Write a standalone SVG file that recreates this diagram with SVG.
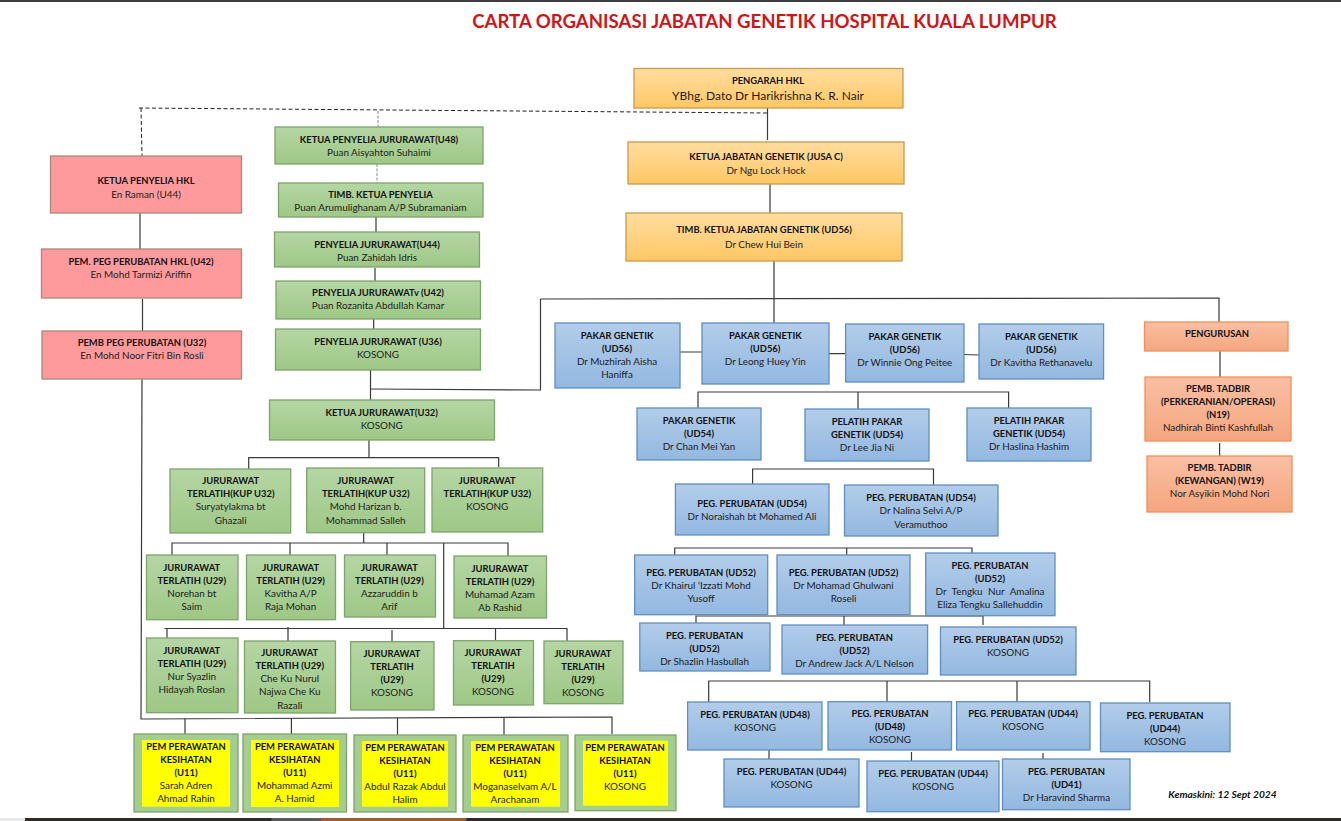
<svg xmlns="http://www.w3.org/2000/svg" width="1341" height="821" viewBox="0 0 1341 821">
<style>
text{font-family:"Lato","Carlito","Open Sans",sans-serif;font-size:9.9px;fill:#1c1c1c;text-anchor:middle}
.b{font-weight:700;font-size:9.4px;fill:#111}
.t{font-size:18.6px;font-weight:700;fill:#d01418}
.n{font-size:12px}
.k{font-weight:700;font-style:italic;font-size:10.2px;fill:#111}
.g{fill:url(#gg);stroke:#7ea36b;stroke-width:1.3}
.u{fill:url(#gu);stroke:#5f8fc0;stroke-width:1.3}
.o{fill:url(#go);stroke:#c99a4c;stroke-width:1.3}
.s{fill:url(#gs);stroke:#f0905a;stroke-width:1.3}
.r{fill:#ff9a9c;stroke:#a58a76;stroke-width:1.3}
.a{fill:#a6cd90;stroke:#7ea36b;stroke-width:1.3}
.y{fill:#ffff00}
#connectors path{fill:none;stroke:#3a3a3a;stroke-width:1.2}
#connectors .d{stroke:#222;stroke-width:1;stroke-dasharray:4 2.5}
#connectors .e{stroke:#888;stroke-width:1;stroke-dasharray:3 1.5}
</style>
<defs>
<linearGradient id="gg" x1="0" y1="0" x2="0" y2="1"><stop offset="0" stop-color="#b5d6a4"/><stop offset="1" stop-color="#9ec886"/></linearGradient>
<linearGradient id="gu" x1="0" y1="0" x2="0" y2="1"><stop offset="0" stop-color="#b2cdea"/><stop offset="1" stop-color="#93b8e0"/></linearGradient>
<linearGradient id="go" x1="0" y1="0" x2="0" y2="1"><stop offset="0" stop-color="#ffdda0"/><stop offset="1" stop-color="#ffc764"/></linearGradient>
<linearGradient id="gs" x1="0" y1="0" x2="0" y2="1"><stop offset="0" stop-color="#f9bfa3"/><stop offset="1" stop-color="#f5a67f"/></linearGradient>
</defs>
<rect width="1341" height="821" fill="#fff"/>
<g id="window-edges">
<rect x="0" y="0" width="1341" height="2" fill="#3c3c3c"/>
<rect x="0" y="818" width="25" height="3" fill="#e8e8e8"/>
<rect x="25" y="818" width="1316" height="3" fill="#2e2a28"/>
<rect x="271.500" y="818" width="49" height="3" fill="#5a5a5a"/>
<rect x="320.500" y="818" width="146" height="3" fill="#9c5e30"/>
</g>
<text class="t" x="764.500" y="28">CARTA ORGANISASI JABATAN GENETIK HOSPITAL KUALA LUMPUR</text>
<g id="connectors">
<path class="d" d="M139 108L768 113M141 108L142 156"/>
<path class="e" d="M378 111V127M377 164V183"/>
<path d="M767.500 108V140M770 184V213M774 261V323M540.500 299L1219 298V322M370 389L540.500 390V299"/>
<path d="M376 217V232M375 268V281M373.700 319V329M370.500 370V400M369 440V457.700M248.700 469V457.700H498.700V467"/>
<path d="M140 213V249M142.500 299V331M142 379L141 719L612 717V734"/>
<path d="M363.700 533V543M172 555V543H508V556M290 543V555M387 543V555M443.700 543V628.700"/>
<path d="M167 638V628.500H567V641M164.500 628.500H167M288 627V641M392 630V641.500M495.500 628V640.700"/>
<path d="M185 718.500V734M291.400 718V734M397.500 718V735M504 718V735"/>
<path d="M680 352H702M829 353.700H846M961.600 354.500L979 355"/>
<path d="M698 408V392H1008.600V408M858 392V409"/>
<path d="M752.600 484V469H933.500V485"/>
<path d="M674.700 555V548H972V553M846.700 548V555"/>
<path d="M696 623V616H983V625M844 616V625"/>
<path d="M708.700 702V681H1149.700V702M887 681V702M1017 681V703"/>
<path d="M769 750V759M911.500 752V761M1043 753V759"/>
<path d="M1220 351V377M1219.600 443V456"/>
</g>
<g id="pengarah"><rect class="o" x="634" y="68.500" width="269" height="39.500"/><text class="b" x="768" y="84">PENGARAH HKL</text><text class="n" x="768" y="100">YBhg. Dato Dr Harikrishna K. R. Nair</text></g>
<g id="ketua-jabatan"><rect class="o" x="628" y="142" width="276" height="42"/><text class="b" x="766" y="160.200">KETUA JABATAN GENETIK  (JUSA C)</text><text x="766" y="174">Dr Ngu Lock Hock</text></g>
<g id="timb-ketua-jabatan"><rect class="o" x="626" y="213" width="276" height="48"/><text class="b" x="764" y="233.200">TIMB. KETUA JABATAN GENETIK (UD56)</text><text x="764" y="247.500">Dr Chew Hui Bein</text></g>
<g id="ketua-penyelia-hkl"><rect class="r" x="50.500" y="156" width="191" height="57"/><text class="b" x="146" y="184.200">KETUA PENYELIA HKL</text><text x="146" y="198.200">En Raman (U44)</text></g>
<g id="pem-peg-hkl"><rect class="r" x="41.500" y="249" width="200" height="49"/><text class="b" x="141" y="265.200">PEM. PEG PERUBATAN HKL (U42)</text><text x="141" y="278.200">En Mohd Tarmizi Ariffin</text></g>
<g id="pemb-peg"><rect class="r" x="42" y="331" width="199.500" height="48"/><text class="b" x="142" y="346.200">PEMB PEG PERUBATAN (U32)</text><text x="142" y="359.200">En Mohd Noor Fitri Bin Rosli</text></g>
<g id="ketua-penyelia-jururawat"><rect class="g" x="275" y="127" width="208" height="37"/><text class="b" x="379" y="143.200">KETUA PENYELIA JURURAWAT(U48)</text><text x="379" y="156.200">Puan Aisyahton Suhaimi</text></g>
<g id="timb-ketua-penyelia"><rect class="g" x="278.500" y="183" width="204.500" height="34"/><text class="b" x="380.500" y="198.200">TIMB. KETUA PENYELIA</text><text x="380.500" y="211.200">Puan Arumulighanam A/P Subramaniam</text></g>
<g id="penyelia-u44"><rect class="g" x="274.500" y="232" width="205" height="35"/><text class="b" x="377" y="248.200">PENYELIA JURURAWAT(U44)</text><text x="377" y="261.200">Puan Zahidah Idris</text></g>
<g id="penyelia-u42"><rect class="g" x="276" y="281" width="204.500" height="38"/><text class="b" x="378" y="296.200">PENYELIA JURURAWATv (U42)</text><text x="378" y="309.200">Puan Rozanita Abdullah Kamar</text></g>
<g id="penyelia-u36"><rect class="g" x="275.500" y="329" width="205" height="41"/><text class="b" x="378" y="345.200">PENYELIA JURURAWAT (U36)</text><text x="378" y="358.200">KOSONG</text></g>
<g id="ketua-jururawat"><rect class="g" x="269.500" y="400" width="225" height="40"/><text class="b" x="381.700" y="416.200">KETUA JURURAWAT(U32)</text><text x="381.700" y="429.200">KOSONG</text></g>
<g id="kup1"><rect class="g" x="170" y="469" width="120.700" height="64"/><text class="b" x="230.700" y="484.200">JURURAWAT</text><text class="b" x="230.700" y="497.200">TERLATIH(KUP U32)</text><text x="230.700" y="510.200">Suryatylakma bt</text><text x="230.700" y="523.500">Ghazali</text></g>
<g id="kup2"><rect class="g" x="306.700" y="468" width="118" height="64.700"/><text class="b" x="365.700" y="484.200">JURURAWAT</text><text class="b" x="365.700" y="497.200">TERLATIH(KUP U32)</text><text x="365.700" y="510.200">Mohd Harizan b.</text><text x="365.700" y="523.500">Mohammad Salleh</text></g>
<g id="kup3"><rect class="g" x="432" y="468" width="110.700" height="64"/><text class="b" x="487.300" y="484.200">JURURAWAT</text><text class="b" x="487.300" y="497.200">TERLATIH(KUP U32)</text><text x="487.300" y="510.200">KOSONG</text></g>
<g id="u29-1"><rect class="g" x="146.500" y="555" width="91.500" height="64.700"/><text class="b" x="191.800" y="571.200">JURURAWAT</text><text class="b" x="191.800" y="584.200">TERLATIH (U29)</text><text x="191.800" y="597.200">Norehan bt</text><text x="191.800" y="610.200">Saim</text></g>
<g id="u29-2"><rect class="g" x="246.500" y="555" width="89" height="64.700"/><text class="b" x="290.600" y="571.200">JURURAWAT</text><text class="b" x="290.600" y="584.200">TERLATIH (U29)</text><text x="290.600" y="597.200">Kavitha A/P</text><text x="290.600" y="610.200">Raja Mohan</text></g>
<g id="u29-3"><rect class="g" x="344.500" y="555" width="91" height="62"/><text class="b" x="389.400" y="571.200">JURURAWAT</text><text class="b" x="389.400" y="584.200">TERLATIH (U29)</text><text x="389.400" y="597.200">Azzaruddin b</text><text x="389.400" y="610.200">Arif</text></g>
<g id="u29-4"><rect class="g" x="454" y="556" width="92.500" height="62"/><text class="b" x="500" y="572.200">JURURAWAT</text><text class="b" x="500" y="585.200">TERLATIH (U29)</text><text x="500" y="598.200">Muhamad Azam</text><text x="500" y="611.200">Ab Rashid</text></g>
<g id="u29-5"><rect class="g" x="146.500" y="638" width="91.500" height="74.700"/><text class="b" x="191.800" y="654.200">JURURAWAT</text><text class="b" x="191.800" y="667.200">TERLATIH (U29)</text><text x="191.800" y="680.200">Nur Syazlin</text><text x="191.800" y="693.200">Hidayah Roslan</text></g>
<g id="u29-6"><rect class="g" x="244.500" y="641" width="91" height="72"/><text class="b" x="289.800" y="656.200">JURURAWAT</text><text class="b" x="289.800" y="669.200">TERLATIH (U29)</text><text x="289.800" y="682.200">Che Ku Nurul</text><text x="289.800" y="695.200">Najwa Che Ku</text><text x="289.800" y="708.500">Razali</text></g>
<g id="u29-7"><rect class="g" x="350.600" y="641.700" width="83.400" height="68.300"/><text class="b" x="392" y="657.200">JURURAWAT</text><text class="b" x="392" y="670.200">TERLATIH</text><text class="b" x="392" y="683.200">(U29)</text><text x="392" y="696.200">KOSONG</text></g>
<g id="u29-8"><rect class="g" x="453.500" y="640.700" width="80" height="64.300"/><text class="b" x="493" y="656.200">JURURAWAT</text><text class="b" x="493" y="669.200">TERLATIH</text><text class="b" x="493" y="682.200">(U29)</text><text x="493" y="695.200">KOSONG</text></g>
<g id="u29-9"><rect class="g" x="544" y="641" width="79" height="62.700"/><text class="b" x="583" y="657.200">JURURAWAT</text><text class="b" x="583" y="670.200">TERLATIH</text><text class="b" x="583" y="683.200">(U29)</text><text x="583" y="696.200">KOSONG</text></g>
<g id="pem-1"><rect class="a" x="134" y="734" width="104" height="78"/><rect class="y" x="142" y="740" width="88" height="66.700"/><text class="b" x="186" y="750.200">PEM PERAWATAN</text><text class="b" x="186" y="763.200">KESIHATAN</text><text class="b" x="186" y="776.200">(U11)</text><text x="186" y="789.200">Sarah Adren</text><text x="186" y="802.200">Ahmad Rahin</text></g>
<g id="pem-2"><rect class="a" x="243" y="734" width="103.500" height="78"/><rect class="y" x="251" y="740" width="88" height="67"/><text class="b" x="294.700" y="750.200">PEM PERAWATAN</text><text class="b" x="294.700" y="763.200">KESIHATAN</text><text class="b" x="294.700" y="776.200">(U11)</text><text x="294.700" y="789.200">Mohammad Azmi</text><text x="294.700" y="802.200">A. Hamid</text></g>
<g id="pem-3"><rect class="a" x="354" y="735" width="102" height="77"/><rect class="y" x="362" y="741" width="86" height="65.700"/><text class="b" x="405" y="751.200">PEM PERAWATAN</text><text class="b" x="405" y="764.200">KESIHATAN</text><text class="b" x="405" y="777.200">(U11)</text><text x="405" y="790.200">Abdul Razak Abdul</text><text x="405" y="803.200">Halim</text></g>
<g id="pem-4"><rect class="a" x="463" y="735" width="105" height="77"/><rect class="y" x="471" y="741" width="89" height="65.700"/><text class="b" x="515" y="751.200">PEM PERAWATAN</text><text class="b" x="515" y="764.200">KESIHATAN</text><text class="b" x="515" y="777.200">(U11)</text><text x="515" y="790.200">Moganaselvam A/L</text><text x="515" y="803.200">Arachanam</text></g>
<g id="pem-5"><rect class="a" x="575" y="735" width="101" height="75.700"/><rect class="y" x="583" y="740.700" width="85" height="65"/><text class="b" x="625" y="751.200">PEM PERAWATAN</text><text class="b" x="625" y="764.200">KESIHATAN</text><text class="b" x="625" y="777.200">(U11)</text><text x="625" y="790.200">KOSONG</text></g>
<g id="pakar-1"><rect class="u" x="555" y="323" width="125" height="65"/><text class="b" x="617" y="339.200">PAKAR GENETIK</text><text class="b" x="617" y="352.200">(UD56)</text><text x="617" y="365.200">Dr Muzhirah Aisha</text><text x="617" y="378.200">Haniffa</text></g>
<g id="pakar-2"><rect class="u" x="702" y="323" width="127" height="61"/><text class="b" x="765.300" y="339.200">PAKAR GENETIK</text><text class="b" x="765.300" y="352.200">(UD56)</text><text x="765.300" y="365.200">Dr Leong Huey Yin</text></g>
<g id="pakar-3"><rect class="u" x="845.600" y="324" width="118.400" height="58"/><text class="b" x="904.800" y="340.200">PAKAR GENETIK</text><text class="b" x="904.800" y="353.200">(UD56)</text><text x="904.800" y="366.200">Dr Winnie Ong Peitee</text></g>
<g id="pakar-4"><rect class="u" x="979" y="324" width="124.600" height="55"/><text class="b" x="1041.300" y="340.200">PAKAR GENETIK</text><text class="b" x="1041.300" y="353.200">(UD56)</text><text x="1041.300" y="366.200">Dr Kavitha Rethanavelu</text></g>
<g id="pengurusan"><rect class="s" x="1144.500" y="322" width="143.500" height="29"/><text class="b" x="1217" y="337.200">PENGURUSAN</text></g>
<g id="pemb-tadbir-1"><rect class="s" x="1145" y="377" width="146" height="64"/><text class="b" x="1218" y="392.200">PEMB. TADBIR</text><text class="b" x="1218" y="405.200">(PERKERANIAN/OPERASI)</text><text class="b" x="1218" y="418.200">(N19)</text><text x="1218" y="431.200">Nadhirah Binti Kashfullah</text></g>
<g id="pemb-tadbir-2"><rect class="s" x="1147" y="456" width="145" height="56"/><text class="b" x="1219.600" y="471.200">PEMB. TADBIR</text><text class="b" x="1219.600" y="484.200">(KEWANGAN) (W19)</text><text x="1219.600" y="497.200">Nor Asyikin Mohd Nori</text></g>
<g id="pakar-5"><rect class="u" x="637" y="408" width="124" height="52"/><text class="b" x="699" y="424.200">PAKAR GENETIK</text><text class="b" x="699" y="437.200">(UD54)</text><text x="699" y="450.200">Dr Chan Mei Yan</text></g>
<g id="pelatih-1"><rect class="u" x="805" y="409" width="124" height="52"/><text class="b" x="867" y="425.200">PELATIH PAKAR</text><text class="b" x="867" y="438.200">GENETIK (UD54)</text><text x="867" y="451.200">Dr Lee Jia Ni</text></g>
<g id="pelatih-2"><rect class="u" x="967" y="408" width="124" height="53"/><text class="b" x="1029" y="424.200">PELATIH PAKAR</text><text class="b" x="1029" y="437.200">GENETIK (UD54)</text><text x="1029" y="450.200">Dr Haslina Hashim</text></g>
<g id="ud54-1"><rect class="u" x="675.400" y="484" width="153.600" height="51"/><text class="b" x="752" y="507.200">PEG. PERUBATAN (UD54)</text><text x="752" y="520.200">Dr Noraishah bt Mohamed Ali</text></g>
<g id="ud54-2"><rect class="u" x="844.500" y="485" width="153.500" height="51"/><text class="b" x="921" y="501.200">PEG. PERUBATAN (UD54)</text><text x="921" y="514.200">Dr Nalina Selvi A/P</text><text x="921" y="528.200">Veramuthoo</text></g>
<g id="ud52-1"><rect class="u" x="634.700" y="555" width="133" height="59.700"/><text class="b" x="701" y="576.200">PEG. PERUBATAN (UD52)</text><text x="701" y="589.200">Dr Khairul ‘Izzati Mohd</text><text x="701" y="602.200">Yusoff</text></g>
<g id="ud52-2"><rect class="u" x="777" y="555" width="133" height="59.700"/><text class="b" x="843.500" y="576.200">PEG. PERUBATAN (UD52)</text><text x="843.500" y="589.200">Dr Mohamad Ghulwani</text><text x="843.500" y="602.200">Roseli</text></g>
<g id="ud52-3"><rect class="u" x="925.700" y="553" width="129.300" height="62.700"/><text class="b" x="990" y="569.200">PEG. PERUBATAN</text><text class="b" x="990" y="582.200">(UD52)</text><text x="990" y="595.200" word-spacing="3">Dr Tengku Nur Amalina</text><text x="990" y="608.200">Eliza Tengku Sallehuddin</text></g>
<g id="ud52-4"><rect class="u" x="639.800" y="623" width="130.200" height="48"/><text class="b" x="704.600" y="639.200">PEG. PERUBATAN</text><text class="b" x="704.600" y="652.200">(UD52)</text><text x="704.600" y="665.200">Dr Shazlin Hasbullah</text></g>
<g id="ud52-5"><rect class="u" x="782" y="625" width="145.600" height="49"/><text class="b" x="854.500" y="641.200">PEG. PERUBATAN</text><text class="b" x="854.500" y="654.200">(UD52)</text><text x="854.500" y="667.200">Dr Andrew Jack A/L Nelson</text></g>
<g id="ud52-6"><rect class="u" x="940.500" y="627" width="135.500" height="48"/><text class="b" x="1008" y="643.200">PEG. PERUBATAN (UD52)</text><text x="1008" y="656.200">KOSONG</text></g>
<g id="ud48-1"><rect class="u" x="687.600" y="702" width="134.400" height="48"/><text class="b" x="755" y="718.200">PEG. PERUBATAN (UD48)</text><text x="755" y="731.200">KOSONG</text></g>
<g id="ud48-2"><rect class="u" x="828" y="701.700" width="123.500" height="48.300"/><text class="b" x="890" y="717.200">PEG. PERUBATAN</text><text class="b" x="890" y="730.200">(UD48)</text><text x="890" y="743.200">KOSONG</text></g>
<g id="ud44-1"><rect class="u" x="956.600" y="701.700" width="133.400" height="48.300"/><text class="b" x="1023" y="717.200">PEG. PERUBATAN (UD44)</text><text x="1023" y="730.200">KOSONG</text></g>
<g id="ud44-2"><rect class="u" x="1100.500" y="703" width="129.500" height="48.700"/><text class="b" x="1165" y="719.200">PEG. PERUBATAN</text><text class="b" x="1165" y="732.200">(UD44)</text><text x="1165" y="745.200">KOSONG</text></g>
<g id="ud44-3"><rect class="u" x="724" y="759" width="135" height="48"/><text class="b" x="791.500" y="775.200">PEG. PERUBATAN (UD44)</text><text x="791.500" y="788.200">KOSONG</text></g>
<g id="ud44-4"><rect class="u" x="867" y="761" width="132" height="50.700"/><text class="b" x="933" y="777.200">PEG. PERUBATAN (UD44)</text><text x="933" y="790.200">KOSONG</text></g>
<g id="ud41"><rect class="u" x="1002.500" y="759" width="127.500" height="50.700"/><text class="b" x="1066.500" y="775.200">PEG. PERUBATAN</text><text class="b" x="1066.500" y="788.200">(UD41)</text><text x="1066.500" y="801.200">Dr Haravind Sharma</text></g>
<text class="k" x="1222.500" y="798">Kemaskini: 12 Sept 2024</text>
</svg>
